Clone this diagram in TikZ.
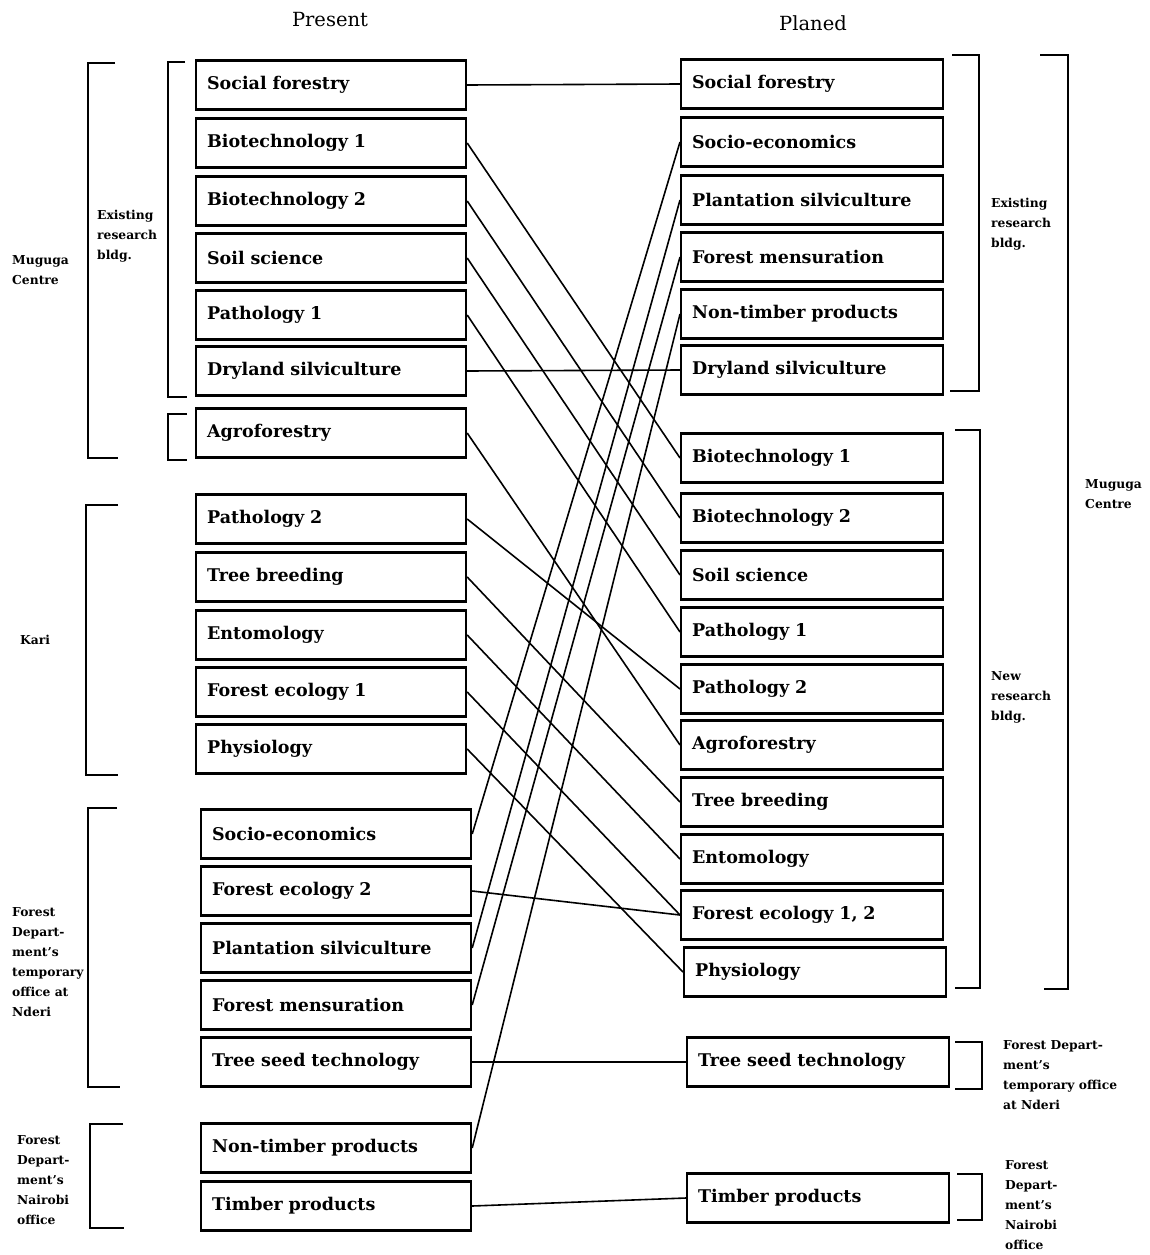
\documentclass[tikz,border=0pt]{standalone}
\usepackage{fontspec}
\setmainfont{DejaVu Serif}
\begin{document}
\begin{tikzpicture}[x=1pt,y=-1pt,
 box/.style={draw, line width=2.2pt, minimum height=49pt, inner xsep=11pt, align=left, font=\bfseries\fontsize{17.5}{20}\selectfont, anchor=west},
 lbox/.style={box, text width=248pt},
 rbox/.style={box, text width=240pt},
 link/.style={line width=1.6pt},
 brk/.style={line width=2pt},
 lab/.style={font=\bfseries\fontsize{12.3}{20}\selectfont, align=left, anchor=west, inner sep=0pt},
 head/.style={font=\fontsize{19.5}{22}\selectfont}]
\useasboundingbox (0,0) rectangle (1149,1255);

\node[head] (hp) at (330,20) {Present};
\node[head] (hq) at (813,23) {Planed};

% left column
\node[lbox] (L1) at (195,85) {Social forestry};
\node[lbox] (L2) at (195,143) {Biotechnology 1};
\node[lbox] (L3) at (195,201) {Biotechnology 2};
\node[lbox] (L4) at (195,258) {Soil science};
\node[lbox] (L5) at (195,315) {Pathology 1};
\node[lbox] (L6) at (195,371) {Dryland silviculture};
\node[lbox] (L7) at (195,433) {Agroforestry};
\node[lbox] (L8) at (195,519) {Pathology 2};
\node[lbox] (L9) at (195,577) {Tree breeding};
\node[lbox] (L10) at (195,635) {Entomology};
\node[lbox] (L11) at (195,692) {Forest ecology 1};
\node[lbox] (L12) at (195,749) {Physiology};
\node[lbox] (L13) at (200,834) {Socio-economics};
\node[lbox] (L14) at (200,891) {Forest ecology 2};
\node[lbox] (L15) at (200,948) {Plantation silviculture};
\node[lbox] (L16) at (200,1005) {Forest mensuration};
\node[lbox] (L17) at (200,1062) {Tree seed technology};
\node[lbox] (L18) at (200,1148) {Non-timber products};
\node[lbox] (L19) at (200,1206) {Timber products};

% right column
\node[rbox] (R1) at (680,84) {Social forestry};
\node[rbox] (R2) at (680,142) {Socio-economics};
\node[rbox] (R3) at (680,200) {Plantation silviculture};
\node[rbox] (R4) at (680,257) {Forest mensuration};
\node[rbox] (R5) at (680,314) {Non-timber products};
\node[rbox] (R6) at (680,370) {Dryland silviculture};
\node[rbox] (R7) at (680,458) {Biotechnology 1};
\node[rbox] (R8) at (680,518) {Biotechnology 2};
\node[rbox] (R9) at (680,575) {Soil science};
\node[rbox] (R10) at (680,632) {Pathology 1};
\node[rbox] (R11) at (680,689) {Pathology 2};
\node[rbox] (R12) at (680,745) {Agroforestry};
\node[rbox] (R13) at (680,802) {Tree breeding};
\node[rbox] (R14) at (680,859) {Entomology};
\node[rbox] (R15) at (680,915) {Forest ecology 1, 2};
\node[rbox] (R16) at (683,972) {Physiology};
\node[rbox] (R17) at (686,1062) {Tree seed technology};
\node[rbox] (R18) at (686,1198) {Timber products};

% connectors
\draw[link] (L1.east) -- (R1.west);
\draw[link] (L2.east) -- (R7.west);
\draw[link] (L3.east) -- (R8.west);
\draw[link] (L4.east) -- (R9.west);
\draw[link] (L5.east) -- (R10.west);
\draw[link] (L6.east) -- (R6.west);
\draw[link] (L7.east) -- (R12.west);
\draw[link] (L8.east) -- (R11.west);
\draw[link] (L9.east) -- (R13.west);
\draw[link] (L10.east) -- (R14.west);
\draw[link] (L11.east) -- (R15.west);
\draw[link] (L12.east) -- (R16.west);
\draw[link] (L13.east) -- (R2.west);
\draw[link] (L14.east) -- (R15.west);
\draw[link] (L15.east) -- (R3.west);
\draw[link] (L16.east) -- (R4.west);
\draw[link] (L17.east) -- (R17.west);
\draw[link] (L18.east) -- (R5.west);
\draw[link] (L19.east) -- (R18.west);

% left brackets
\draw[brk] (115,63) -- (88,63) -- (88,458) -- (118,458);
\draw[brk] (185,62) -- (168,62) -- (168,397) -- (187,397);
\draw[brk] (187,414) -- (168,414) -- (168,460) -- (187,460);
\draw[brk] (118,505) -- (86,505) -- (86,775) -- (118,775);
\draw[brk] (117,808) -- (88,808) -- (88,1087) -- (120,1087);
\draw[brk] (123,1124) -- (90,1124) -- (90,1228) -- (124,1228);

% right brackets
\draw[brk] (952,55) -- (979,55) -- (979,391) -- (950,391);
\draw[brk] (1040,55) -- (1068,55) -- (1068,989) -- (1044,989);
\draw[brk] (955,430) -- (980,430) -- (980,988) -- (955,988);
\draw[brk] (955,1042) -- (982,1042) -- (982,1089) -- (955,1089);
\draw[brk] (957,1174) -- (982,1174) -- (982,1220) -- (957,1220);

% labels
\node[lab] (tm1) at (12,270) {Muguga\\Centre};
\node[lab] (te1) at (97,236) {Existing\\research\\bldg.};
\node[lab] (tk) at (20,640) {Kari};
\node[lab] (tn1) at (12,962) {Forest\\Depart-\\ment's\\temporary\\office at\\Nderi};
\node[lab] (tr1) at (17,1180) {Forest\\Depart-\\ment's\\Nairobi\\office};
\node[lab] (te2) at (991,224) {Existing\\research\\bldg.};
\node[lab] (tm2) at (1085,494) {Muguga\\Centre};
\node[lab] (tnb) at (991,697) {New\\research\\bldg.};
\node[lab] (tn2) at (1003,1075) {Forest Depart-\\ment's\\temporary office\\at Nderi};
\node[lab] (tr2) at (1005,1205) {Forest\\Depart-\\ment's\\Nairobi\\office};
\end{tikzpicture}
\end{document}
